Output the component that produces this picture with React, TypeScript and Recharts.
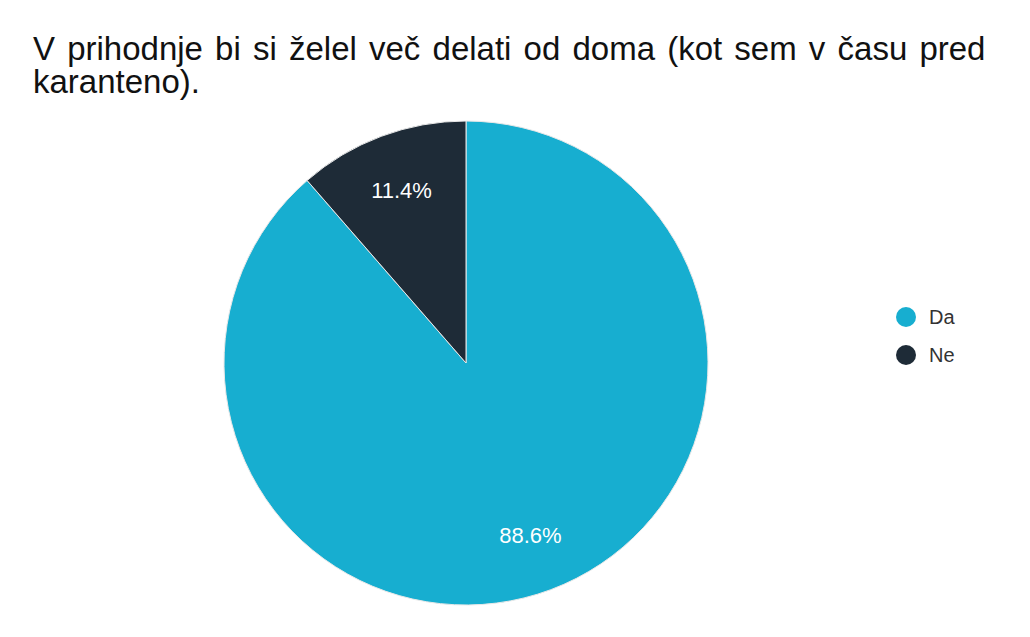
import React from 'react';
import { PieChart, Pie, Cell, Legend } from 'recharts';

const TITLE = 'V prihodnje bi si želel več delati od doma (kot sem v času pred karanteno).';
const LABELS = ['Da', 'Ne'];
const VALUES = [88.6, 11.4];
const COLORS = ['#17aed0', '#1e2b37'];

const RADIAN = Math.PI / 180;
const FONT = '"Liberation Sans", Arial, sans-serif';

const data = LABELS.map((name, i) => ({ name, value: VALUES[i] }));

const renderLabel = (props: any) => {
  const { cx, cy, midAngle, outerRadius, value } = props;
  const r = outerRadius * 0.76;
  const x = cx + r * Math.cos(-midAngle * RADIAN);
  const y = cy + r * Math.sin(-midAngle * RADIAN);
  return (
    <text x={x} y={y} fill="#fff" textAnchor="middle" dominantBaseline="central"
      fontSize={22} fontFamily={FONT}>
      {value.toFixed(1)}%
    </text>
  );
};

const renderLegend = () => (
  <div style={{ fontFamily: FONT }}>
    {LABELS.map((name, i) => (
      <div key={name} style={{ display: 'flex', alignItems: 'center', height: 38 }}>
        <svg width={22} height={22} style={{ marginRight: 12 }}>
          <circle cx={11} cy={11} r={10} fill={COLORS[i]} />
        </svg>
        <span style={{ fontSize: 20, color: '#333' }}>{name}</span>
      </div>
    ))}
  </div>
);

const App: React.FC = () => {
  return (
    <div style={{ position: 'absolute', left: 0, top: 0, width: 1030, height: 637, background: '#fff' }}>
      <div style={{
        position: 'absolute', left: 33, top: 32, width: 980,
        fontFamily: FONT, fontSize: 33, lineHeight: '33px', wordSpacing: 3, color: '#111'
      }}>
        {TITLE}
      </div>
      <PieChart width={1030} height={637} margin={{ top: 0, right: 0, bottom: 0, left: 0 }}
        style={{ position: 'absolute', left: 0, top: 0 }}>
        <Pie
          data={data}
          dataKey="value"
          nameKey="name"
          cx={466}
          cy={363}
          outerRadius={242}
          startAngle={90}
          endAngle={-270}
          stroke="#e8e8e8"
          strokeWidth={1}
          label={renderLabel}
          labelLine={false}
          isAnimationActive={false}
        >
          {data.map((d, i) => <Cell key={d.name} fill={COLORS[i]} />)}
        </Pie>
        <Legend content={renderLegend}
          wrapperStyle={{ position: 'absolute', left: 895, top: 298, width: 100 }} />
      </PieChart>
    </div>
  );
};

export default App;
